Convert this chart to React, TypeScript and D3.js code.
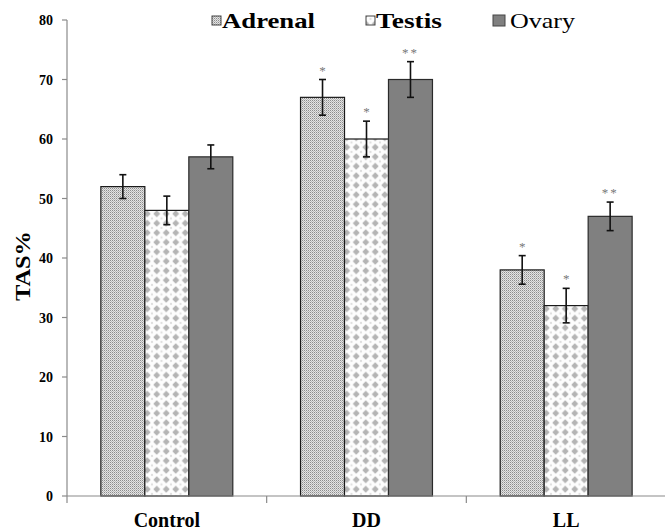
import React from 'react';
import * as d3 from 'd3';

// data
const categories = ['Control', 'DD', 'LL'];
const seriesNames = ['Adrenal', 'Testis', 'Ovary'];
const adrenal = [52, 67, 38];
const testis = [48, 60, 32];
const ovary = [57, 70, 47];
const adrenalErr = [2, 3, 2.4];
const testisErr = [2.4, 3, 2.9];
const ovaryErr = [2, 3, 2.4];
const adrenalSig = ['', '*', '*'];
const testisSig = ['', '*', '*'];
const ovarySig = ['', '**', '**'];
const yTicks = [0, 10, 20, 30, 40, 50, 60, 70, 80];

const W = 665;
const H = 531;
const FONT = "'Liberation Serif', 'DejaVu Serif', serif";

const fills = ['url(#adrenalPat)', 'url(#testisPat)', '#808080'];
const strokes = ['#1a1a1a', '#1a1a1a', '#2a2a2a'];

const App = () => {
  const x = d3.scaleBand().domain(categories).range([67, 666]);
  const xs = d3.scaleBand().domain(seriesNames).range([0, x.bandwidth()]).paddingOuter(0.77);
  const y = d3.scaleLinear().domain([0, 80]).range([496, 20]);

  const values = [adrenal, testis, ovary];
  const errs = [adrenalErr, testisErr, ovaryErr];
  const sigs = [adrenalSig, testisSig, ovarySig];

  const bars = seriesNames.flatMap((s, si) =>
    categories.map((c, ci) => ({
      s, si, c,
      v: values[si][ci],
      e: errs[si][ci],
      sig: sigs[si][ci],
    }))
  );

  const legend = [
    { name: 'Adrenal', sx: 212, sy: 16, sw: 9, sh: 9, tx: 222, tl: 93, bold: true },
    { name: 'Testis', sx: 366, sy: 16, sw: 9, sh: 9, tx: 376, tl: 66, bold: true },
    { name: 'Ovary', sx: 493, sy: 15, sw: 12, sh: 11, tx: 510, tl: 65, bold: false },
  ];

  const txt = { fontFamily: FONT };

  return (
    <svg width={W} height={H} style={{ position: 'absolute', left: 0, top: 0, background: '#fff' }}>
      <defs>
        <pattern id="adrenalPat" width="2" height="2" patternUnits="userSpaceOnUse">
          <rect width="2" height="2" fill="#e4e4e4" />
          <rect x="0" y="0" width="1" height="1" fill="#8c8c8c" />
          <rect x="1" y="1" width="1" height="1" fill="#b8b8b8" />
        </pattern>
        <pattern id="testisPat" width="9.5" height="9.5" patternUnits="userSpaceOnUse">
          <rect width="9.5" height="9.5" fill="#fdfdfd" />
          <polygon points="4.75,1.3 8.2,4.75 4.75,8.2 1.3,4.75" fill="#b4b4b4" />
          <circle cx="0" cy="0" r="1.1" fill="#dedede" />
          <circle cx="9.5" cy="0" r="1.1" fill="#dedede" />
          <circle cx="0" cy="9.5" r="1.1" fill="#dedede" />
          <circle cx="9.5" cy="9.5" r="1.1" fill="#dedede" />
        </pattern>
      </defs>

      {/* bars */}
      {bars.map((b) => {
        const bx = (x(b.c) ?? 0) + (xs(b.s) ?? 0);
        return (
          <rect
            key={`bar-${b.s}-${b.c}`}
            x={bx}
            y={y(b.v)}
            width={xs.bandwidth()}
            height={y(0) - y(b.v)}
            fill={fills[b.si]}
            stroke={strokes[b.si]}
            strokeWidth={1.2}
          />
        );
      })}

      {/* error bars and significance marks */}
      {bars.map((b) => {
        const cx = (x(b.c) ?? 0) + (xs(b.s) ?? 0) + xs.bandwidth() / 2;
        const top = y(b.v + b.e);
        const bot = y(b.v - b.e);
        return (
          <g key={`err-${b.s}-${b.c}`} stroke="#111" strokeWidth={1.6}>
            <line x1={cx} x2={cx} y1={top} y2={bot} />
            <line x1={cx - 3.5} x2={cx + 3.5} y1={top} y2={top} />
            <line x1={cx - 3.5} x2={cx + 3.5} y1={bot} y2={bot} />
            {b.sig && (
              <text
                x={cx}
                y={top - 5}
                textAnchor="middle"
                style={txt}
                fontSize={13}
                fill="#777"
                stroke="none"
                letterSpacing={b.sig.length > 1 ? 2 : 0}
              >
                {b.sig}
              </text>
            )}
          </g>
        );
      })}

      {/* y axis */}
      <line x1={67} x2={67} y1={y(80)} y2={y(0)} stroke="#8a8a8a" strokeWidth={1.2} />
      {yTicks.map((t) => (
        <g key={`yt-${t}`}>
          <line x1={62} x2={67} y1={y(t)} y2={y(t)} stroke="#8a8a8a" strokeWidth={1.2} />
          <text
            x={53}
            y={y(t) + 5}
            textAnchor="end"
            style={txt}
            fontWeight="bold"
            fontSize={14}
          >
            {t}
          </text>
        </g>
      ))}

      {/* x axis */}
      <line x1={67} x2={W} y1={y(0)} y2={y(0)} stroke="#8a8a8a" strokeWidth={1.2} />
      {categories.map((c) => (
        <line
          key={`xt-${c}`}
          x1={x(c) ?? 0}
          x2={x(c) ?? 0}
          y1={y(0)}
          y2={y(0) + 7}
          stroke="#8a8a8a"
          strokeWidth={1.2}
        />
      ))}
      {categories.map((c) => (
        <text
          key={`xl-${c}`}
          x={(x(c) ?? 0) + x.bandwidth() / 2}
          y={527}
          textAnchor="middle"
          style={txt}
          fontWeight="bold"
          fontSize={20}
        >
          {c}
        </text>
      ))}

      {/* y axis title */}
      <text
        transform="translate(30,266) rotate(-90)"
        textAnchor="middle"
        style={txt}
        fontWeight="bold"
        fontSize={22}
        textLength={70}
        lengthAdjust="spacingAndGlyphs"
      >
        TAS%
      </text>

      {/* legend */}
      {legend.map((l, i) => (
        <g key={`lg-${l.name}`}>
          <rect
            x={l.sx}
            y={l.sy}
            width={l.sw}
            height={l.sh}
            fill={fills[i]}
            stroke="#444"
            strokeWidth={1}
          />
          <text
            x={l.tx}
            y={28}
            style={txt}
            fontWeight={l.bold ? 'bold' : 'normal'}
            fontSize={21}
            textLength={l.tl}
            lengthAdjust="spacingAndGlyphs"
          >
            {l.name}
          </text>
        </g>
      ))}
    </svg>
  );
};

export default App;
